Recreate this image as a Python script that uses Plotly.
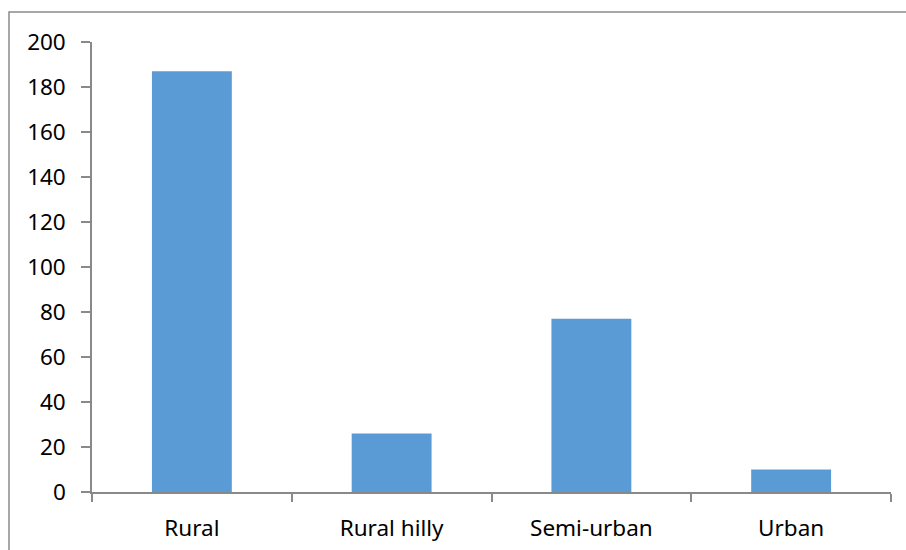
import plotly.graph_objects as go

categories = ["Rural", "Rural hilly", "Semi-urban", "Urban"]
counts = [187, 26, 77, 10]
y_ticks = [0, 20, 40, 60, 80, 100, 120, 140, 160, 180, 200]

axis_grey = "#898989"
font_family = "Noto Sans, Open Sans, sans-serif"
label_size = 22.5

fig = go.Figure(
    go.Bar(
        x=categories,
        y=counts,
        marker=dict(color="#5B9BD5", line=dict(width=0)),
        width=0.4,
    )
)

fig.update_layout(
    width=906,
    height=550,
    margin=dict(l=92, r=15, t=42, b=58),
    paper_bgcolor="white",
    plot_bgcolor="white",
    showlegend=False,
    font=dict(family=font_family, size=label_size, color="black"),
)

fig.update_xaxes(
    type="category",
    tickson="boundaries",
    ticks="outside",
    ticklen=8,
    tickcolor=axis_grey,
    tickwidth=1.5,
    showline=True,
    linecolor=axis_grey,
    linewidth=1.5,
    showgrid=False,
    ticklabelstandoff=15,
    tickfont=dict(size=label_size),
    automargin=False,
)

fig.update_yaxes(
    range=[0, 200],
    tickvals=y_ticks,
    ticks="outside",
    ticklen=9,
    tickcolor=axis_grey,
    tickwidth=1.5,
    showline=True,
    linecolor=axis_grey,
    linewidth=1.5,
    showgrid=False,
    zeroline=False,
    ticklabelstandoff=11,
    tickfont=dict(size=label_size),
    automargin=False,
)

# outer chart frame
fig.add_shape(
    type="rect",
    xref="paper",
    yref="paper",
    x0=(9 - 92) / 799,
    x1=1.5,
    y0=-1.0,
    y1=1 + 30 / 450,
    line=dict(color="#8a8a8a", width=1.5),
    fillcolor="rgba(0,0,0,0)",
    layer="below",
)

fig.write_html("out.html")
